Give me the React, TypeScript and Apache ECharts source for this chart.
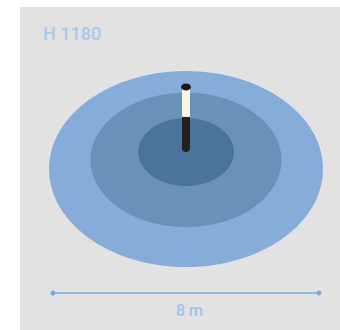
import React, { useEffect, useRef } from "react";
import * as echarts from "echarts";

// Zones (metres): horizontal radius and vertical radius in ground-depth units, center depth
const zoneNames = ["outer", "middle", "inner"];
const zoneRadiusX = [4.12, 2.87, 1.44];
const zoneRadiusY = [4.12, 2.82, 1.43];
const zoneCenterY = [5.42, 5.8, 6.13];
const zoneColors = ["#86acd9", "#6a91bb", "#4b749c"];

// Pole (x, bottom, white-start, top)
const poleData = [[0, 6.13, 7.61, 8.87]];

// Scale bar
const scaleX = [-4, 4];
const scaleY = 0.21;
const scaleLabel = "8 m";
const title = "H 1180";

export default function App() {
  const ref = useRef<HTMLDivElement>(null);
  useEffect(() => {
    const chart = echarts.init(ref.current!, null, { renderer: "svg" });
    const zoneData = zoneNames.map((n, i) => ({
      name: n,
      value: [0, zoneCenterY[i], zoneRadiusX[i], zoneRadiusY[i]],
    }));
    chart.setOption({
      animation: false,
      backgroundColor: "#ffffff",
      grid: { left: 53, width: 266, top: 60, height: 238 },
      xAxis: { type: "value", min: -4, max: 4, show: false },
      yAxis: { type: "value", min: 0, max: 10, show: false },
      graphic: [
        { type: "rect", z: -10, shape: { x: 20, y: 7, width: 320, height: 323 }, style: { fill: "#e2e2e2" } },
        {
          type: "text", left: 43, top: 24,
          style: { text: title, fill: "#a9c9ef", font: "500 18px Roboto" },
        },
        {
          type: "text", left: 176, top: 302,
          style: { text: scaleLabel, fill: "#9fc1ea", font: "500 16px Roboto" },
        },
      ],
      series: [
        {
          type: "custom",
          data: zoneData,
          renderItem: (params: any, api: any) => {
            const c = api.coord([api.value(0), api.value(1)]);
            const rx = api.size([api.value(2), 0])[0];
            const ry = api.size([0, api.value(3)])[1];
            return {
              type: "ellipse",
              shape: { cx: c[0], cy: c[1], rx, ry },
              style: { fill: zoneColors[params.dataIndex] },
            };
          },
        },
        {
          type: "custom",
          data: poleData,
          z: 5,
          renderItem: (params: any, api: any) => {
            const x = api.value(0);
            const b = api.coord([x, api.value(1)]);
            const m = api.coord([x, api.value(2)]);
            const t = api.coord([x, api.value(3)]);
            const w = 8;
            return {
              type: "group",
              children: [
                { type: "rect", shape: { x: b[0] - w / 2, y: m[1], width: w, height: b[1] - m[1], r: [0, 0, 4, 4] }, style: { fill: "#231f1c" } },
                { type: "rect", shape: { x: t[0] - w / 2, y: t[1], width: w, height: m[1] - t[1] }, style: { fill: "#f7f7dc" } },
                { type: "ellipse", shape: { cx: t[0], cy: t[1], rx: 5, ry: 3.5 }, style: { fill: "#1a1716" } },
              ],
            };
          },
        },
        {
          type: "line",
          data: scaleX.map((x) => [x, scaleY]),
          symbol: "circle",
          symbolSize: 5,
          lineStyle: { color: "#7aa8dc", width: 1.5 },
          itemStyle: { color: "#7aa8dc" },
        },
      ],
    });
    return () => chart.dispose();
  }, []);
  return <div ref={ref} style={{ position: "fixed", left: 0, top: 0, width: 340, height: 330 }} />;
}
